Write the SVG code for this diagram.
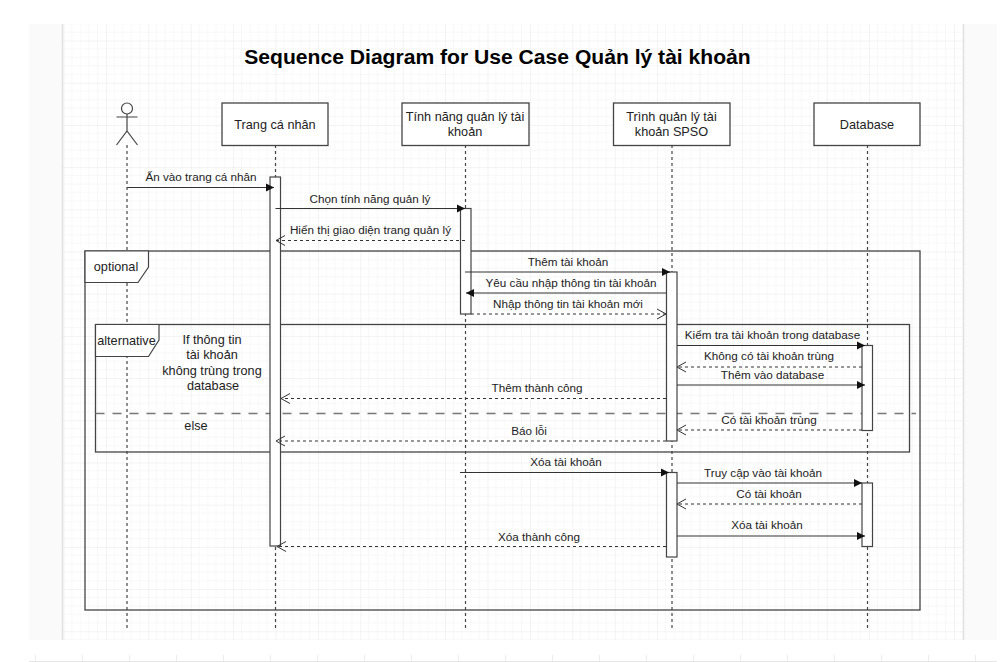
<svg xmlns="http://www.w3.org/2000/svg" width="1005" height="662" viewBox="0 0 1005 662">
<style>
text{font-family:"Liberation Sans",Arial,sans-serif;font-size:11.7px;fill:#222;text-anchor:middle}
.n{font-size:12.7px}
.t{font-size:21.1px;font-weight:bold;fill:#000}
.box{fill:#fff;stroke:#444;stroke-width:1.3}
.frame{fill:none;stroke:#444;stroke-width:1.3}
.tag{fill:#fff;stroke:#444;stroke-width:1.2}
.life{stroke:#444;stroke-width:1.2;stroke-dasharray:3 3;fill:none}
.sync{stroke:#333;stroke-width:1.2;fill:none;marker-end:url(#fill)}
.ret{stroke:#333;stroke-width:1.1;stroke-dasharray:3 3;fill:none;marker-end:url(#open)}
.act{fill:#fff;stroke:#444;stroke-width:1.2}
</style>
<defs>
<marker id="fill" markerUnits="userSpaceOnUse" markerWidth="10" markerHeight="10" refX="8" refY="5" orient="auto"><path d="M0 1 L8 5 L0 9 Z" fill="#111"/></marker>
<marker id="open" markerUnits="userSpaceOnUse" markerWidth="12" markerHeight="12" refX="10" refY="6" orient="auto"><path d="M1 1 L10 6 L1 11" fill="none" stroke="#333" stroke-width="1"/></marker>
<pattern id="grid" x="63.5" y="40.5" width="42.4" height="42.2" patternUnits="userSpaceOnUse">
<path d="M8.48 0V42.2M16.96 0V42.2M25.44 0V42.2M33.92 0V42.2M0 8.44H42.4M0 16.88H42.4M0 25.32H42.4M0 33.76H42.4" stroke="#f8f8f8" stroke-width="1" fill="none"/>
<path d="M0 0V42.2M0 0H42.4" stroke="#e8e8e8" stroke-width="1" fill="none"/>
</pattern>
<pattern id="strip" x="35" y="655" width="47" height="7" patternUnits="userSpaceOnUse"><path d="M0.5 0V7" stroke="#ececec"/></pattern>
</defs>
<rect width="1005" height="662" fill="#fff"/>
<rect x="29" y="24" width="33" height="616" fill="#fafafa"/>
<rect x="964" y="24" width="33" height="616" fill="#fafafa"/>
<rect x="62" y="24" width="902" height="616" fill="#fff"/>
<rect x="63" y="24" width="900" height="616" fill="url(#grid)"/>
<path d="M62.5 24V640M963.5 24V640" stroke="#e2e2e2" stroke-width="1.5"/>
<rect x="29" y="655" width="968" height="7" fill="url(#strip)"/>
<path d="M29 661.5H997" stroke="#e6e6e6"/>
<text class="t" x="497.500" y="63.500">Sequence Diagram for Use Case Quản lý tài khoản</text>
<g id="lifelines">
<path class="life" d="M127 145V630"/><path class="life" d="M275.500 145V630"/><path class="life" d="M465.500 145V630"/><path class="life" d="M672 145V630"/><path class="life" d="M867.500 145V630"/>
</g>
<g id="frame-optional">
<rect class="frame" x="85" y="251" width="835" height="359"/>
<path class="tag" d="M85 251H148.500V267L138 282.500H85Z"/>
<text class="n" x="116" y="271">optional</text>
</g>
<g id="frame-alternative">
<rect class="frame" x="95.500" y="324.500" width="814" height="127.500"/>
<path class="tag" d="M95.500 324.500H159V340L148.500 356.500H95.500Z"/>
<text class="n" x="126.500" y="345">alternative</text>
<path d="M95.500 413.500H916" stroke="#777" stroke-width="1.4" stroke-dasharray="9 8" fill="none"/>
<text class="n" x="212" y="344">If thông tin</text>
<text class="n" x="212" y="359">tài khoản</text>
<text class="n" x="212" y="374.500">không trùng trong</text>
<text class="n" x="213" y="389.500">database</text>
<text class="n" x="196" y="430">else</text>
</g>
<g id="actor" fill="none" stroke="#444" stroke-width="1.2">
<circle cx="127" cy="108.500" r="5.500" fill="#fff"/>
<path d="M127 114V131M116.500 117H137.500M116.500 145L127 131L137.500 145"/>
</g>
<g id="node-trang"><rect class="box" x="222" y="103" width="106" height="42.500"/><text class="n" x="275" y="128.500">Trang cá nhân</text></g>
<g id="node-tinhnang"><rect class="box" x="402" y="103" width="127" height="42.500"/><text class="n" x="465" y="121">Tính năng quản lý tài</text><text class="n" x="465" y="136">khoản</text></g>
<g id="node-trinh"><rect class="box" x="613.500" y="103" width="116.500" height="42.500"/><text class="n" x="671.500" y="121">Trình quản lý tài</text><text class="n" x="671.500" y="136">khoản SPSO</text></g>
<g id="node-database"><rect class="box" x="814" y="103" width="106" height="42.500"/><text class="n" x="867" y="128.500">Database</text></g>
<g id="activations">
<rect class="act" x="270" y="177" width="10.500" height="369"/>
<rect class="act" x="460.500" y="208.500" width="10.500" height="105.500"/>
<rect class="act" x="666.500" y="272" width="10.500" height="169"/>
<rect class="act" x="862" y="345.500" width="10.500" height="85"/>
<rect class="act" x="666.500" y="472.500" width="10.500" height="84.500"/>
<rect class="act" x="862" y="483" width="10.500" height="63.500"/>
</g>
<g id="connectors">
<path class="sync" d="M127 187.500H274"/>
<path class="sync" d="M275.500 208.500H465"/>
<path class="ret" d="M465 240.500H276"/>
<path class="sync" d="M465 272H670"/>
<path class="sync" d="M666 293H466"/>
<path class="ret" d="M471 314H666"/>
<path class="sync" d="M677 345.500H865"/>
<path class="ret" d="M862 367H677"/>
<path class="sync" d="M677 385H865"/>
<path class="ret" d="M666 398.500H281"/>
<path class="ret" d="M862 430H677"/>
<path class="ret" d="M666 441H276"/>
<path class="sync" d="M460 472.500H669"/>
<path class="sync" d="M677 483H862"/>
<path class="ret" d="M862 504H677"/>
<path class="sync" d="M677 536H865"/>
<path class="ret" d="M666 546.500H277"/>
</g>
<g id="labels">
<text x="201" y="181">Ấn vào trang cá nhân</text>
<text x="370" y="203">Chọn tính năng quản lý</text>
<text x="370.500" y="234">Hiển thị giao diện trang quản lý</text>
<text x="568" y="266">Thêm tài khoản</text>
<text x="571" y="287">Yêu cầu nhập thông tin tài khoản</text>
<text x="568" y="308">Nhập thông tin tài khoản mới</text>
<text x="772.500" y="339">Kiểm tra tài khoản trong database</text>
<text x="769" y="360">Không có tài khoản trùng</text>
<text x="772.500" y="379">Thêm vào database</text>
<text x="537" y="392">Thêm thành công</text>
<text x="769" y="424">Có tài khoản trùng</text>
<text x="529" y="435">Báo lỗi</text>
<text x="566" y="466">Xóa tài khoản</text>
<text x="763" y="477">Truy cập vào tài khoản</text>
<text x="769" y="498">Có tài khoản</text>
<text x="767" y="529">Xóa tài khoản</text>
<text x="539" y="541">Xóa thành công</text>
</g>
</svg>
